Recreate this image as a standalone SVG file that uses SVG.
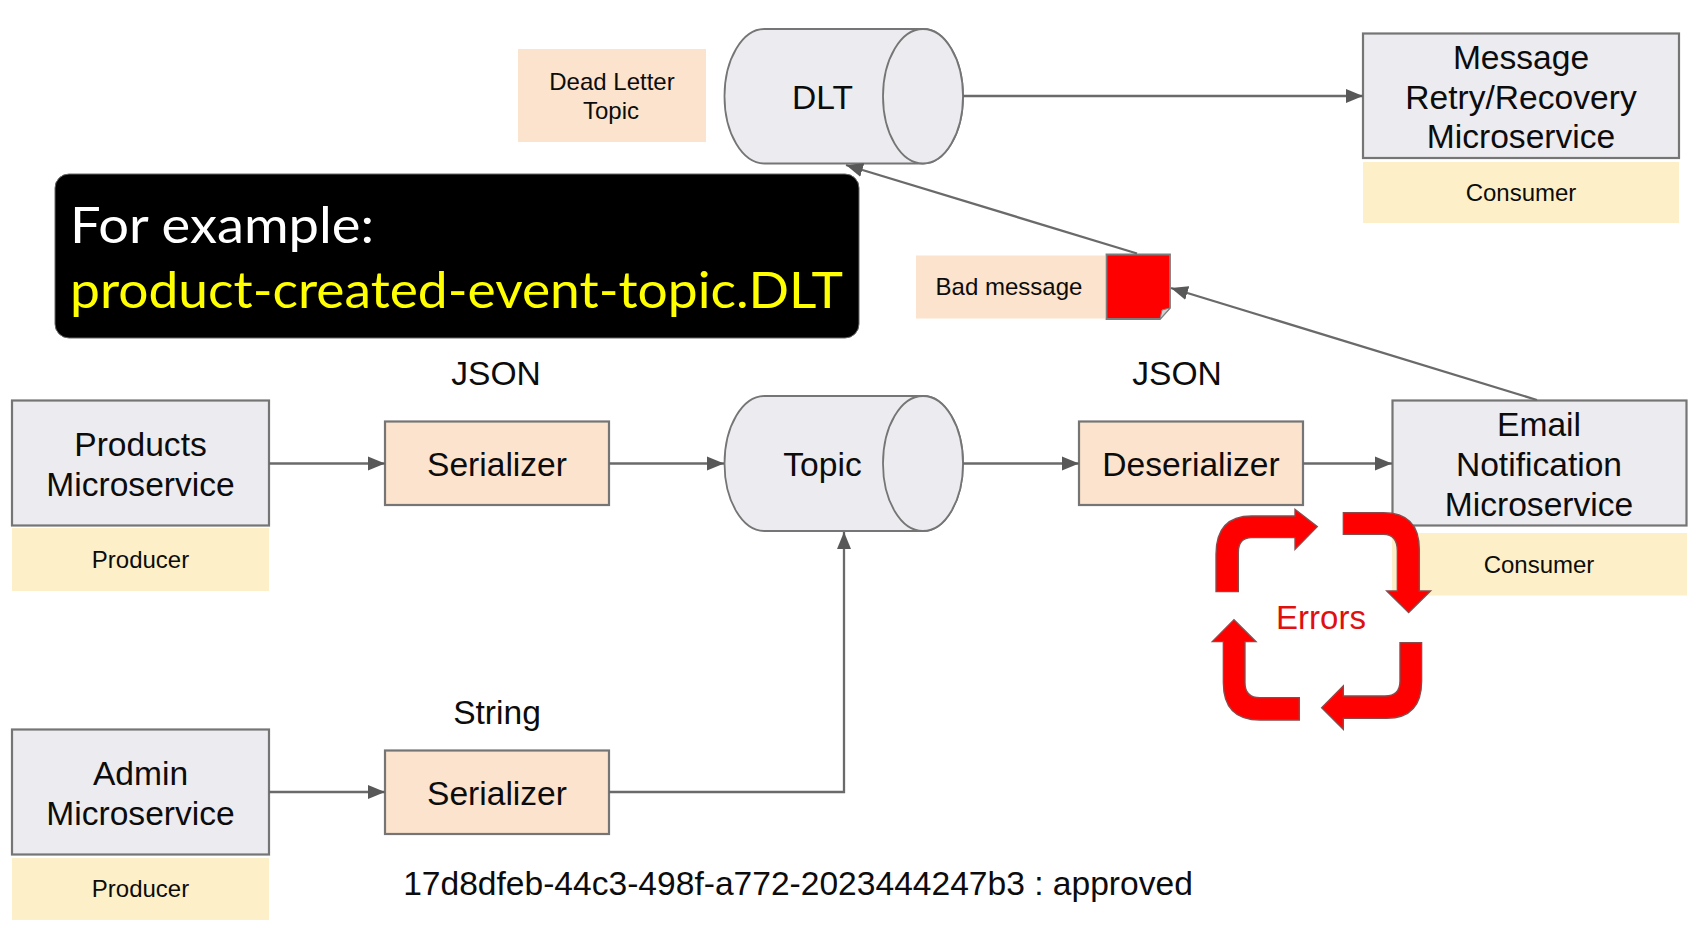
<svg xmlns="http://www.w3.org/2000/svg" width="1697" height="938" viewBox="0 0 1697 938">
<style>
text{font-family:"Liberation Sans",Arial,sans-serif;fill:#0c0c0c;text-anchor:middle}
.b{font-size:33.6px}.s{font-size:24px}
.gray{fill:#ecebef;stroke:#757575;stroke-width:2.200}
.peach{fill:#fbe3cd;stroke:#757575;stroke-width:2.200}
.pf{fill:#fbe3cd}.yf{fill:#fdf0c8}
.cn{fill:none;stroke:#6a6a6a;stroke-width:2.300}
.cyl{fill:#ecebef;stroke:#757575;stroke-width:1.800}
.red{fill:#f00;stroke:#8a4a4a;stroke-width:4}
.hd{font-family:Lato,"Noto Sans",sans-serif;font-size:51px;text-anchor:start}
</style>
<defs>
<marker id="ah" markerUnits="userSpaceOnUse" markerWidth="18" markerHeight="15" viewBox="0 0 18 15" refX="17" refY="7.500" orient="auto"><path d="M0,0.500 L17,7.500 L0,14.500 Z" fill="#585858"/></marker>
</defs>
<rect width="1697" height="938" fill="#fff"/>

<g id="label-dead-letter"><rect class="pf" x="518" y="49" width="188" height="93"/><text class="s" x="612" y="90">Dead Letter</text><text class="s" x="611" y="119">Topic</text></g>
<g id="dlt"><path class="cyl" d="M764.500,29H923A40,67.250 0 0 1 923,163.500H764.500A40,67.250 0 0 1 764.500,29Z"/><ellipse class="cyl" cx="923" cy="96.250" rx="40" ry="67.250"/><text x="822.500" y="109" font-size="33.600">DLT</text></g>
<g id="retry-service"><rect class="gray" x="1363" y="33.500" width="316" height="124.500"/><text class="b" x="1521" y="68.500">Message</text><text class="b" x="1521" y="108.500">Retry/Recovery</text><text class="b" x="1521" y="148">Microservice</text></g>
<g id="retry-role"><rect class="yf" x="1363" y="162" width="316" height="61"/><text class="s" x="1521" y="200.500">Consumer</text></g>
<g id="callout"><rect x="55" y="174" width="804" height="164" rx="14" fill="#000" stroke="#666" stroke-width="1"/><text class="hd" x="70" y="243" style="fill:#fff" textLength="304" lengthAdjust="spacingAndGlyphs">For example:</text><text class="hd" x="70" y="308" style="fill:#ff0" textLength="773" lengthAdjust="spacingAndGlyphs">product-created-event-topic.DLT</text></g>
<g id="bad-message"><rect class="pf" x="916" y="255.500" width="189" height="63"/><text class="s" x="1009" y="295">Bad message</text></g>
<g id="bad-doc"><path d="M1106.500,254.500H1170V308L1160,319H1106.500Z" fill="#f00" stroke="#7c7c7c" stroke-width="1.800"/><path d="M1160,319L1162,310L1170,308Z" fill="#d0d0d0" stroke="#7c7c7c" stroke-width="1"/></g>
<g id="products-service"><rect class="gray" x="12" y="400.500" width="257" height="125"/><text class="b" x="140.500" y="456">Products</text><text class="b" x="140.500" y="496">Microservice</text></g>
<g id="products-role"><rect class="yf" x="12" y="528" width="257" height="63"/><text class="s" x="140.500" y="568">Producer</text></g>
<g id="json-1"><text class="b" x="496" y="384.500">JSON</text></g>
<g id="serializer-1"><rect class="peach" x="385" y="421.500" width="224" height="83.500"/><text class="b" x="497" y="475.500">Serializer</text></g>
<g id="topic"><path class="cyl" d="M764.500,396H923A40,67.500 0 0 1 923,531H764.500A40,67.500 0 0 1 764.500,396Z"/><ellipse class="cyl" cx="923" cy="463.500" rx="40" ry="67.500"/><text class="b" x="822.500" y="475.500">Topic</text></g>
<g id="json-2"><text class="b" x="1177" y="384.500">JSON</text></g>
<g id="deserializer"><rect class="peach" x="1079" y="421.500" width="224" height="83.500"/><text class="b" x="1191" y="475.500">Deserializer</text></g>
<g id="email-service"><rect class="gray" x="1392.500" y="400.500" width="294" height="125"/><text class="b" x="1539" y="436">Email</text><text class="b" x="1539" y="475.500">Notification</text><text class="b" x="1539" y="515.500">Microservice</text></g>
<g id="email-role"><rect class="yf" x="1392" y="533" width="295" height="62.500"/><text class="s" x="1539" y="572.500">Consumer</text></g>
<g id="admin-service"><rect class="gray" x="12" y="729.500" width="257" height="125"/><text class="b" x="140.500" y="785">Admin</text><text class="b" x="140.500" y="825">Microservice</text></g>
<g id="admin-role"><rect class="yf" x="12" y="858" width="257" height="62"/><text class="s" x="140.500" y="897">Producer</text></g>
<g id="string-label"><text class="b" x="497" y="724">String</text></g>
<g id="serializer-2"><rect class="peach" x="385" y="750.500" width="224" height="83.500"/><text class="b" x="497" y="805">Serializer</text></g>
<g id="record"><text class="b" x="798" y="894.500">17d8dfeb-44c3-498f-a772-2023444247b3 : approved</text></g>

<g id="connectors">
<path class="cn" marker-end="url(#ah)" d="M269,463.500H385"/>
<path class="cn" marker-end="url(#ah)" d="M609,463.500H724"/>
<path class="cn" marker-end="url(#ah)" d="M963,463.500H1079"/>
<path class="cn" marker-end="url(#ah)" d="M1303,463.500H1392"/>
<path class="cn" marker-end="url(#ah)" d="M269,792H385"/>
<path class="cn" marker-end="url(#ah)" d="M609,792H844V532"/>
<path class="cn" marker-end="url(#ah)" d="M963,96H1363"/>
<path class="cn" marker-end="url(#ah)" d="M1137,253.500L846,165"/>
<path class="cn" marker-end="url(#ah)" d="M1537,400L1171,288"/>
</g>

<g id="error-cycle">
<g transform="translate(1180 381) scale(.3333)">
<path class="red" d="M108,632V520Q108,405 215,405H345V385L412,437L345,505V470H215Q175,470 175,515V632Z"/>
<path class="red" d="M490,395H610Q718,395 718,505V630H752L686,695L620,630H652V510Q652,460 610,460H490Z"/>
<path class="red" d="M660,785H725V900Q725,1012 620,1012H490V1045L425,980L490,915V945H615Q660,945 660,900Z"/>
<path class="red" d="M358,1017H240Q130,1017 130,905V782H97L162,716L228,782H195V905Q195,950 240,950H358Z"/>
</g>
<text x="1321" y="629" font-size="33" style="fill:#e01010">Errors</text>
</g>
</svg>
